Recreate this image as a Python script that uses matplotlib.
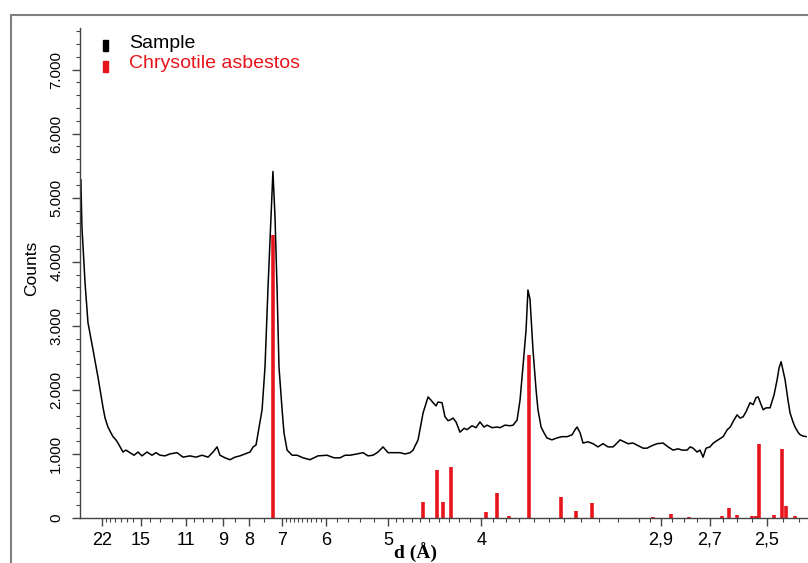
import numpy as np
import matplotlib
matplotlib.use("Agg")
import matplotlib.pyplot as plt
from matplotlib.patches import Rectangle

plt.rcParams['font.family'] = ['Liberation Sans', 'DejaVu Sans']

# Cu K-alpha wavelength used to turn d-spacings into 2-theta positions
WAVELENGTH = 1.5406

# sample pattern (2-theta in degrees, counts)
sample_2theta = [3.00, 3.05, 3.20, 3.34, 3.58, 3.82, 4.06, 4.16, 4.30, 4.44, 4.54, 4.68, 4.78, 4.92,
                 5.02, 5.16, 5.36, 5.55, 5.74, 5.93, 6.17, 6.41, 6.60, 6.80, 7.03, 7.27, 7.61, 7.90,
                 8.23, 8.52, 8.81, 9.10, 9.34, 9.53, 9.67, 9.91, 10.15, 10.39, 10.63, 10.87, 11.11,
                 11.26, 11.40, 11.50, 11.69, 11.83, 11.97, 12.12, 12.21, 12.31, 12.41, 12.50, 12.65,
                 12.74, 12.89, 13.13, 13.37, 13.65, 13.99, 14.37, 14.80, 15.14, 15.43, 15.67, 15.91,
                 16.24, 16.53, 16.77, 17.01, 17.25, 17.49, 17.73, 17.97, 18.30, 18.55, 18.79, 18.93,
                 19.17, 19.41, 19.65, 19.79, 19.89, 20.03, 20.13, 20.32, 20.46, 20.61, 20.70, 20.85,
                 20.99, 21.18, 21.38, 21.52, 21.76, 21.95, 22.14, 22.33, 22.48, 22.72, 22.96, 23.10,
                 23.34, 23.58, 23.73, 23.92, 24.06, 24.20, 24.35, 24.44, 24.54, 24.68, 24.83, 24.92,
                 25.07, 25.21, 25.35, 25.59, 25.83, 26.08, 26.32, 26.56, 26.70, 26.80, 26.94, 27.08,
                 27.32, 27.56, 27.80, 28.04, 28.28, 28.52, 28.71, 28.86, 29.05, 29.24, 29.48, 29.72,
                 29.96, 30.15, 30.39, 30.63, 30.92, 31.16, 31.40, 31.64, 31.83, 32.07, 32.22, 32.36,
                 32.55, 32.69, 32.84, 32.98, 33.17, 33.33, 33.56, 33.80, 34.00, 34.14, 34.32, 34.47,
                 34.61, 34.76, 34.90, 35.09, 35.24, 35.38, 35.48, 35.62, 35.72, 35.86, 36.05, 36.24,
                 36.39, 36.48, 36.58, 36.67, 36.77, 36.91, 37.01, 37.15, 37.25, 37.39, 37.49, 37.63,
                 37.78]
sample_counts = [5280, 4550, 3670, 3050, 2630, 2200, 1730, 1560, 1420, 1330, 1270, 1220, 1170, 1090,
                 1030, 1060, 1020, 980, 1030, 970, 1030, 980, 1020, 980, 970, 1000, 1020, 950,
                 970, 950, 980, 950, 1030, 1110, 980, 940, 910, 950, 970, 1000, 1030,
                 1110, 1140, 1330, 1690, 2360, 3560, 4700, 5410, 4700, 3560, 2360, 1690,
                 1330, 1060, 980, 980, 940, 910, 970, 980, 940, 940, 980, 980,
                 1000, 1020, 970, 980, 1030, 1110, 1020, 1020, 1020, 1000, 1020, 1060,
                 1220, 1640, 1890, 1840, 1800, 1750, 1810, 1800, 1580, 1520, 1530, 1560,
                 1500, 1340, 1400, 1380, 1440, 1410, 1500, 1420, 1450, 1410, 1420, 1410,
                 1450, 1440, 1450, 1530, 1840, 2360, 2940, 3560, 3410, 2630, 2000, 1690,
                 1420, 1330, 1250, 1220, 1250, 1270, 1270, 1300, 1380, 1420, 1330, 1170,
                 1190, 1160, 1110, 1160, 1110, 1110, 1170, 1220, 1190, 1160, 1170, 1130,
                 1090, 1090, 1130, 1160, 1170, 1110, 1060, 1080, 1060, 1060, 1110, 1090,
                 1030, 1060, 950, 1090, 1110, 1170, 1220, 1270, 1380, 1420, 1530, 1610,
                 1560, 1580, 1660, 1800, 1770, 1880, 1890, 1770, 1690, 1720, 1720, 1920,
                 2160, 2340, 2440, 2310, 2160, 1840, 1640, 1500, 1420, 1340, 1300, 1280,
                 1270]

# chrysotile asbestos reference lines
ref_2theta = [12.19, 19.42, 20.07, 20.38, 20.74, 22.43, 22.97, 23.55, 24.51, 26.03, 26.76, 27.53,
              30.45, 31.30, 32.15, 33.73, 34.09, 34.45, 35.17, 35.38, 35.51, 36.24, 36.64, 36.82,
              37.25]
ref_counts = [4420, 250, 750, 250, 800, 100, 390, 30, 2550, 330, 110, 230,
              10, 60, 15, 30, 150, 50, 30, 30, 1160, 40, 1080, 190, 30]

# d-spacing axis ticks
d_major = [22, 15, 11, 9, 8, 7, 6, 5, 4, 2.9, 2.7, 2.5]
d_labels = ['22', '15', '11', '9', '8', '7', '6', '5', '4', '2,9', '2,7', '2,5']
y_major = [0, 1000, 2000, 3000, 4000, 5000, 6000, 7000]
y_labels = ['0', '1.000', '2.000', '3.000', '4.000', '5.000', '6.000', '7.000']


def d_to_2theta(d):
    return 2 * np.degrees(np.arcsin(WAVELENGTH / (2 * np.asarray(d, dtype=float))))


d_minor = (list(range(12, 22)) + [10, 10.5, 9.5, 8.5, 7.5]
           + list(np.round(np.arange(6.1, 7.0, 0.1), 2))
           + list(np.round(np.arange(5.2, 6.0, 0.2), 2))
           + list(np.round(np.arange(3.0, 5.0, 0.1), 2))
           + list(np.round(np.arange(2.4, 3.0, 0.05), 2)))
d_minor = [d for d in d_minor if d not in d_major]

W, H = 808, 563
fig = plt.figure(figsize=(W / 100, H / 100), dpi=100)
ax = fig.add_axes([80 / W, 1 - 518 / H, (W - 80) / W, 490 / H])

ax.plot(sample_2theta, sample_counts, color='black', lw=1.1)
ax.vlines(ref_2theta, 0, ref_counts, color='#e8141c', lw=2.6)

ax.set_xlim(2.958, 37.87)
ax.set_ylim(0, 7650)

ax.set_xticks(d_to_2theta(d_major))
ax.set_xticklabels(d_labels, fontsize=13)
ax.set_xticks(d_to_2theta(d_minor), minor=True)
ax.set_yticks(y_major)
ax.set_yticklabels(y_labels, fontsize=11, rotation=90, va='center')
ax.set_yticks(np.arange(0, 7700, 200), minor=True)

for s in ['top', 'right']:
    ax.spines[s].set_visible(False)
for s in ['left', 'bottom']:
    ax.spines[s].set_color('#444444')
    ax.spines[s].set_linewidth(1.0)
ax.tick_params(which='major', length=6, width=1.0, color='#444444', pad=4)
ax.tick_params(which='minor', length=3, width=0.8, color='#444444')
ax.tick_params(axis='y', pad=6)

fig.text(32 / W, 1 - 268 / H, 'Counts', rotation=90, ha='center', va='center', fontsize=12.5)
fig.text(415 / W, 1 - 553 / H, 'd (Å)', ha='center', va='center', fontsize=14,
         fontweight='bold', family=['Liberation Serif', 'DejaVu Serif'])

# legend drawn as small bars with text
fig.patches.append(Rectangle((103 / W, 1 - 51 / H), 5 / W, 11 / H, transform=fig.transFigure,
                             color='black'))
fig.patches.append(Rectangle((103 / W, 1 - 72 / H), 5 / W, 11 / H, transform=fig.transFigure,
                             color='#e8141c'))
fig.text(129 / W, 1 - 43 / H, 'Sample', ha='left', va='center', fontsize=14, color='black')
fig.text(129 / W, 1 - 64 / H, 'Chrysotile asbestos', ha='left', va='center', fontsize=14,
         color='#e8141c')

# grey outer frame
fig.patches.append(Rectangle((11 / W, -0.1), 1.2, 0.1 + 1 - 15 / H, transform=fig.transFigure,
                             fill=False, edgecolor='#808080', lw=1.5))

fig.savefig('out.png', dpi=100)
